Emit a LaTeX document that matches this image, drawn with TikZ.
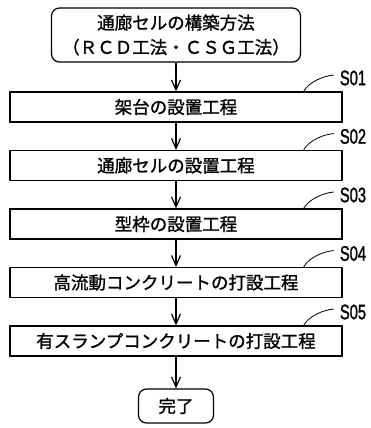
\documentclass[tikz,border=0pt]{standalone}
\usepackage{fontspec}
\usepackage{graphicx}
\newfontfamily\jp[BoldFont={Noto Sans CJK JP},BoldFeatures={FakeBold=1.2}]{Noto Sans CJK JP}
\newfontfamily\lab[BoldFont={Liberation Sans},BoldFeatures={FakeBold=1.5}]{Liberation Sans}
\usetikzlibrary{arrows.meta,calc}
\begin{document}
\begin{tikzpicture}[x=1bp,y=-1bp,
  stepbox/.style={draw, line width=1.2bp, minimum width=332bp, minimum height=30bp, inner sep=0pt,
    font=\jp\bfseries\fontsize{17.5bp}{24bp}\selectfont},
  termbox/.style={draw, line width=1.2bp, rounded corners=8bp, inner sep=0pt, align=center,
    font=\jp\bfseries\fontsize{17.5bp}{24.5bp}\selectfont},
  flow/.style={line width=1.2bp, -{Straight Barb[length=10bp,width=9bp]}},
  steplabel/.style={font=\lab\bfseries\fontsize{21bp}{21bp}\selectfont, inner sep=0pt},
  leader/.style={line width=0.8bp}]
\useasboundingbox (0,0) rectangle (371,428);

\node[termbox, minimum width=249bp, minimum height=54bp] (start) at (176,35)
  {通廊セルの構築方法\\（ＲＣＤ工法・ＣＳＧ工法）};
\node[stepbox] (s1) at (176,107) {架台の設置工程};
\node[stepbox] (s2) at (176,165.5) {通廊セルの設置工程};
\node[stepbox] (s3) at (176,224) {型枠の設置工程};
\node[stepbox] (s4) at (176,282.5) {高流動コンクリートの打設工程};
\node[stepbox] (s5) at (176,341) {有スランプコンクリートの打設工程};
\node[termbox, minimum width=75bp, minimum height=34bp] (end) at (176,406) {完了};

\draw[flow] (start) -- (s1);
\draw[flow] (s1) -- (s2);
\draw[flow] (s2) -- (s3);
\draw[flow] (s3) -- (s4);
\draw[flow] (s4) -- (s5);
\draw[flow] (s5) -- (end);

\foreach \i/\y in {1/78, 2/136.5, 3/195, 4/253.5, 5/312} {
  \node[steplabel] (l\i) at (353,\y) {\scalebox{0.7}[1]{S0\i}};
  \draw[leader] ([xshift=-39bp]s\i.north east) .. controls +(6,-10) and +(-10,1) .. ([xshift=-6bp,yshift=3bp]l\i.west);
}
\end{tikzpicture}
\end{document}
